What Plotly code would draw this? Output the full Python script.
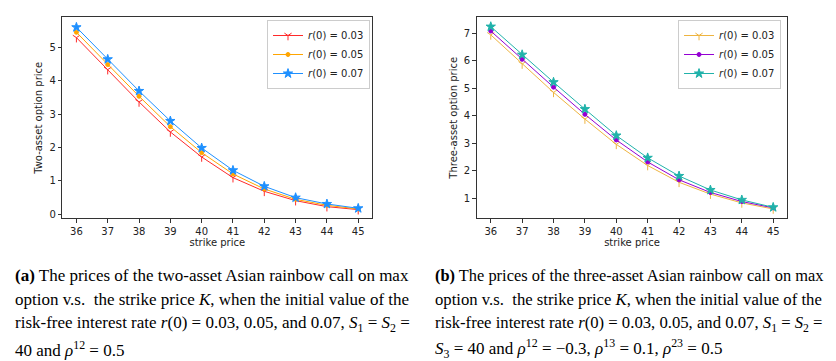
import plotly.graph_objects as go

strike = [36, 37, 38, 39, 40, 41, 42, 43, 44, 45]

# two-asset option prices
two_r003 = [5.30, 4.34, 3.37, 2.47, 1.72, 1.10, 0.69, 0.41, 0.23, 0.14]
two_r005 = [5.46, 4.49, 3.54, 2.63, 1.85, 1.21, 0.76, 0.45, 0.27, 0.16]
two_r007 = [5.61, 4.65, 3.70, 2.80, 1.99, 1.32, 0.84, 0.50, 0.31, 0.18]

# three-asset option prices
three_r003 = [6.94, 5.88, 4.85, 3.88, 2.96, 2.19, 1.58, 1.15, 0.83, 0.61]
three_r005 = [7.08, 6.05, 5.04, 4.05, 3.12, 2.32, 1.67, 1.21, 0.88, 0.65]
three_r007 = [7.24, 6.22, 5.22, 4.24, 3.28, 2.47, 1.81, 1.30, 0.94, 0.67]

labels = ["<i>r</i>(0) = 0.03", "<i>r</i>(0) = 0.05", "<i>r</i>(0) = 0.07"]

caption_a = [
    "<b>(a)</b> The prices of the two-asset Asian rainbow call on max",
    "option v.s.  the strike price <i>K</i>, when the initial value of the",
    "risk-free interest rate <i>r</i>(0) = 0.03, 0.05, and 0.07, <i>S</i><sub>1</sub> = <i>S</i><sub>2</sub> =",
    "40 and <i>ρ</i><sup>12</sup> = 0.5",
]
caption_b = [
    "<b>(b)</b> The prices of the three-asset Asian rainbow call on max",
    "option v.s.  the strike price <i>K</i>, when the initial value of the",
    "risk-free interest rate <i>r</i>(0) = 0.03, 0.05, and 0.07, <i>S</i><sub>1</sub> = <i>S</i><sub>2</sub> =",
    "<i>S</i><sub>3</sub> = 40 and <i>ρ</i><sup>12</sup> = −0.3, <i>ρ</i><sup>13</sup> = 0.1, <i>ρ</i><sup>23</sup> = 0.5",
]

fig = go.Figure()


def add_series(y, name, color, symbol, size, xaxis, yaxis, legend):
    fig.add_trace(go.Scatter(
        x=strike, y=y, name=name, mode="lines+markers",
        line=dict(color=color, width=1),
        marker=dict(symbol=symbol, size=size, color=color,
                    line=dict(color=color, width=1)),
        xaxis=xaxis, yaxis=yaxis, legend=legend,
    ))


# left panel
add_series(two_r003, labels[0], "#ff2a2a", "y-down", 6, "x", "y", "legend")
add_series(two_r005, labels[1], "#ffa500", "circle", 4, "x", "y", "legend")
add_series(two_r007, labels[2], "#1e90ff", "star", 7, "x", "y", "legend")

# right panel
add_series(three_r003, labels[0], "#eeb440", "y-down", 6, "x2", "y2", "legend2")
add_series(three_r005, labels[1], "#9400d3", "circle", 4, "x2", "y2", "legend2")
add_series(three_r007, labels[2], "#20b2aa", "star", 7, "x2", "y2", "legend2")

axis_style = dict(
    showgrid=False, zeroline=False, showline=True, mirror=True, automargin=False,
    linecolor="#333333", linewidth=1, ticks="outside", ticklen=3.5,
    tickcolor="#333333", tickfont=dict(family="DejaVu Sans", size=10, color="#222222"),
)
title_font = dict(family="DejaVu Sans", size=10, color="#222222")

legend_style = dict(
    bgcolor="rgba(255,255,255,0.8)", bordercolor="#cccccc", borderwidth=1,
    font=dict(family="DejaVu Sans", size=10, color="#222222"),
    xanchor="right", yanchor="top", tracegroupgap=0, itemwidth=30,
)

# the page body keeps an 8px margin, so the figure is sized to fit inside the window
fig.update_layout(
    template="none",
    width=828, height=353,
    margin=dict(l=0, r=0, t=0, b=0),
    paper_bgcolor="white", plot_bgcolor="white",
    xaxis=dict(domain=[0.0656, 0.440], range=[35.55, 45.45], tickvals=strike,
               title=dict(text="strike price", font=title_font, standoff=1),
               anchor="y", **axis_style),
    yaxis=dict(domain=[0.4042, 0.9737], range=[-0.12, 5.91], tickvals=[0, 1, 2, 3, 4, 5],
               title=dict(text="Two-asset option price", font=title_font, standoff=4),
               anchor="x", **axis_style),
    xaxis2=dict(domain=[0.566, 0.9412], range=[35.55, 45.45], tickvals=strike,
                title=dict(text="strike price", font=title_font, standoff=1),
                anchor="y2", **axis_style),
    yaxis2=dict(domain=[0.4042, 0.9737], range=[0.27, 7.58], tickvals=[1, 2, 3, 4, 5, 6, 7],
                title=dict(text="Three-asset option price", font=title_font, standoff=4),
                anchor="x2", **axis_style),
    legend=dict(x=0.4372, y=0.966, **legend_style),
    legend2=dict(x=0.9336, y=0.966, **legend_style),
)

line_y = [0.2422, 0.1742, 0.1062, 0.0354]
sizes_a = [17, 17, 17, 17]
sizes_b = [16.4, 16.7, 16.7, 17]  # right column is slightly narrower
for text, yy, fs in zip(caption_a, line_y, sizes_a):
    fig.add_annotation(text=text, xref="paper", yref="paper", x=0.006, y=yy,
                       xanchor="left", yanchor="middle", showarrow=False,
                       font=dict(family="Liberation Serif", size=fs, color="black"))
for text, yy, fs in zip(caption_b, line_y, sizes_b):
    fig.add_annotation(text=text, xref="paper", yref="paper", x=0.5133, y=yy,
                       xanchor="left", yanchor="middle", showarrow=False,
                       font=dict(family="Liberation Serif", size=fs, color="black"))

fig.write_html("out.html")
